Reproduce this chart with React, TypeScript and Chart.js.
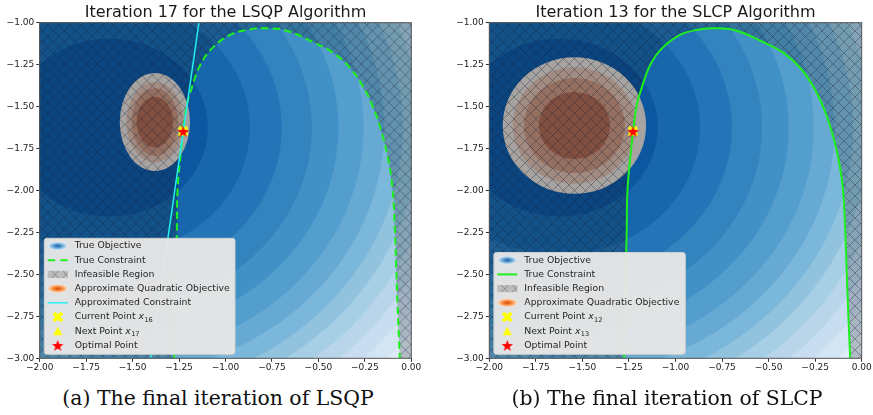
import React, { useEffect, useRef } from 'react';
import { Chart, registerables } from 'chart.js';

Chart.register(...registerables);

// ---------------- data ----------------
const xTickValues = [-2, -1.75, -1.5, -1.25, -1, -0.75, -0.5, -0.25, 0];
const yTickValues = [-3, -2.75, -2.5, -2.25, -2, -1.75, -1.5, -1.25, -1];

// true objective: contour boundaries as radii around its minimum
const objectiveCenter = [-1.625, -1.625];
const objectiveRadii = [0.53, 0.757, 0.928, 1.09, 1.233, 1.368, 1.48, 1.58, 1.67, 1.76, 1.85, 1.94, 2.03, 2.12];

// true constraint boundary (feasible region is inside)
const constraintX = [-1.276, -1.268, -1.262, -1.258, -1.238, -1.21, -1.185, -1.135, -1.07, -0.97, -0.87, -0.795, -0.68, -0.53, -0.42, -0.33, -0.255, -0.2, -0.158, -0.127, -0.103, -0.09, -0.077, -0.062];
const constraintY = [-3.0, -2.5, -2.25, -2.0, -1.75, -1.5, -1.4, -1.25, -1.15, -1.07, -1.04, -1.033, -1.045, -1.115, -1.18, -1.27, -1.39, -1.52, -1.66, -1.8, -1.97, -2.2, -2.6, -3.0];

// LSQP approximated (linearised) constraint
const approxConstraintX = [-1.403, -1.143];
const approxConstraintY = [-3.0, -1.0];

// approximate quadratic objective contours (outer -> inner semi-axes)
const lsqpQuadCenter = [-1.38, -1.592];
const lsqpQuadSemiX = [0.189, 0.153, 0.125, 0.098];
const lsqpQuadSemiY = [0.292, 0.24, 0.203, 0.151];
const slcpQuadCenter = [-1.543, -1.613];
const slcpQuadSemiX = [0.385, 0.331, 0.271, 0.191];
const slcpQuadSemiY = [0.407, 0.347, 0.283, 0.2];

// iterates
const lsqpCurrentPoint = [-1.228, -1.648];
const lsqpNextPoint = [-1.228, -1.648];
const slcpCurrentPoint = [-1.228, -1.648];
const slcpNextPoint = [-1.228, -1.648];
const optimalPoint = [-1.228, -1.648];

const titles = ['Iteration 17 for the LSQP Algorithm', 'Iteration 13 for the SLCP Algorithm'];
const captions = ['(a) The final iteration of LSQP', '(b) The final iteration of SLCP'];
const lsqpIterIndex = ['16', '17'];
const slcpIterIndex = ['12', '13'];

// ---------------- styles ----------------
const FONT = '"DejaVu Sans", "Noto Sans", sans-serif';
const LIME = '#1ef01e';
const CYAN = '#22f0f0';
const BLUES = [[247, 251, 255], [222, 235, 247], [198, 219, 239], [158, 202, 225], [107, 174, 214], [66, 146, 198], [33, 113, 181], [8, 81, 156], [8, 48, 107]];
const QUAD_COLORS = ['#a6a3a1', '#a28b81', '#957060', '#804f40'];

function blues(t: number) {
  t = Math.max(0, Math.min(1, t));
  const p = t * 8;
  const i = Math.min(7, Math.floor(p));
  const f = p - i;
  const c = BLUES[i].map((v, k) => Math.round(v + (BLUES[i + 1][k] - v) * f));
  return `rgb(${c[0]},${c[1]},${c[2]})`;
}
const bandColor = (k: number) => blues(0.85 - (0.78 / objectiveRadii.length) * k);

function makeMarker(kind: string, size: number) {
  const c = document.createElement('canvas');
  c.width = size;
  c.height = size;
  const g = c.getContext('2d')!;
  const m = size / 2;
  g.beginPath();
  if (kind === 'star') {
    const R = m - 0.5, r = R * 0.42;
    for (let i = 0; i < 10; i++) {
      const ang = -Math.PI / 2 + (i * Math.PI) / 5;
      const rad = i % 2 === 0 ? R : r;
      const px = m + rad * Math.cos(ang), py = m + rad * Math.sin(ang) + R * 0.1;
      if (i === 0) g.moveTo(px, py); else g.lineTo(px, py);
    }
    g.closePath();
    g.fillStyle = '#ff0000';
    g.fill();
  } else if (kind === 'cross') {
    g.translate(m, m);
    g.rotate(Math.PI / 4);
    g.fillStyle = '#ffff00';
    const L = m * 1.15, W = m * 0.36;
    g.fillRect(-L, -W, 2 * L, 2 * W);
    g.fillRect(-W, -L, 2 * W, 2 * L);
  } else {
    g.moveTo(m, 0.5);
    g.lineTo(size - 0.5, size - 1);
    g.lineTo(0.5, size - 1);
    g.closePath();
    g.fillStyle = '#ffff00';
    g.fill();
  }
  return c;
}

type PanelCfg = {
  title: string;
  quadCenter: number[];
  quadSemiX: number[];
  quadSemiY: number[];
  dashed: boolean;
  approx: boolean;
  current: number[];
  next: number[];
  iterIdx: string[];
  legendWidth: number;
};

function hatch(ctx: CanvasRenderingContext2D, l: number, t: number, w: number, h: number, step: number) {
  ctx.beginPath();
  for (let d = -h - step; d < w + h + step; d += step) {
    ctx.moveTo(l + d, t);
    ctx.lineTo(l + d + h, t + h);
    ctx.moveTo(l + d + h, t);
    ctx.lineTo(l + d, t + h);
  }
  ctx.stroke();
}

function contourPlugin(cfg: PanelCfg) {
  return {
    id: 'contours',
    beforeDatasetsDraw(chart: any) {
      const { ctx, chartArea: a } = chart;
      const x = chart.scales.x, y = chart.scales.y;
      ctx.save();
      ctx.beginPath();
      ctx.rect(a.left, a.top, a.right - a.left, a.bottom - a.top);
      ctx.clip();
      // objective bands
      const cx = x.getPixelForValue(objectiveCenter[0]);
      const cy = y.getPixelForValue(objectiveCenter[1]);
      ctx.fillStyle = bandColor(objectiveRadii.length);
      ctx.fillRect(a.left, a.top, a.right - a.left, a.bottom - a.top);
      for (let i = objectiveRadii.length - 1; i >= 0; i--) {
        const r = objectiveRadii[i];
        const rx = Math.abs(x.getPixelForValue(objectiveCenter[0] + r) - cx);
        const ry = Math.abs(y.getPixelForValue(objectiveCenter[1] + r) - cy);
        ctx.beginPath();
        ctx.ellipse(cx, cy, rx, ry, 0, 0, Math.PI * 2);
        ctx.fillStyle = bandColor(i);
        ctx.fill();
      }
      // infeasible region path
      const meta = chart.getDatasetMeta(0);
      if (meta.dataset && meta.dataset.updateControlPoints) meta.dataset.updateControlPoints(a, 'x');
      const pts = meta.data as any[];
      const infeasible = () => {
        ctx.beginPath();
        ctx.rect(a.left - 2, a.top - 2, a.right - a.left + 4, a.bottom - a.top + 60);
        ctx.moveTo(pts[0].x, a.bottom + 30);
        ctx.lineTo(pts[0].x, pts[0].y);
        for (let i = 1; i < pts.length; i++) {
          const p = pts[i - 1], q = pts[i];
          if (p.cp2x !== undefined && q.cp1x !== undefined) ctx.bezierCurveTo(p.cp2x, p.cp2y, q.cp1x, q.cp1y, q.x, q.y);
          else ctx.lineTo(q.x, q.y);
        }
        ctx.lineTo(pts[pts.length - 1].x, a.bottom + 30);
        ctx.closePath();
      };
      infeasible();
      ctx.fillStyle = 'rgba(0,0,0,0.2)';
      ctx.fill('evenodd');
      // approximate quadratic objective
      const qx = x.getPixelForValue(cfg.quadCenter[0]);
      const qy = y.getPixelForValue(cfg.quadCenter[1]);
      cfg.quadSemiX.forEach((sx, i) => {
        const rx = Math.abs(x.getPixelForValue(cfg.quadCenter[0] + sx) - qx);
        const ry = Math.abs(y.getPixelForValue(cfg.quadCenter[1] + cfg.quadSemiY[i]) - qy);
        ctx.beginPath();
        ctx.ellipse(qx, qy, rx, ry, 0, 0, Math.PI * 2);
        ctx.fillStyle = QUAD_COLORS[i];
        ctx.fill();
      });
      // hatch
      infeasible();
      ctx.clip('evenodd');
      ctx.strokeStyle = 'rgba(25,35,55,0.4)';
      ctx.lineWidth = 0.9;
      hatch(ctx, a.left, a.top, a.right - a.left, a.bottom - a.top, 11);
      ctx.restore();
    },
    afterDatasetsDraw(chart: any) {
      const { ctx, chartArea: a } = chart;
      ctx.save();
      ctx.strokeStyle = '#555';
      ctx.lineWidth = 1;
      ctx.strokeRect(a.left, a.top, a.right - a.left, a.bottom - a.top);
      ctx.restore();
    },
  };
}

type LegendRow = { icon: string; label: string; sub?: string };

function legendPlugin(cfg: PanelCfg, markers: Record<string, HTMLCanvasElement>) {
  const rows: LegendRow[] = [
    { icon: 'objective', label: 'True Objective' },
    { icon: cfg.dashed ? 'dashed' : 'solid', label: 'True Constraint' },
    { icon: 'infeasible', label: 'Infeasible Region' },
    { icon: 'quad', label: 'Approximate Quadratic Objective' },
  ];
  if (cfg.approx) rows.push({ icon: 'approx', label: 'Approximated Constraint' });
  rows.push({ icon: 'cross', label: 'Current Point ', sub: cfg.iterIdx[0] });
  rows.push({ icon: 'tri', label: 'Next Point ', sub: cfg.iterIdx[1] });
  rows.push({ icon: 'star', label: 'Optimal Point' });
  return {
    id: 'panelLegend',
    afterDraw(chart: any) {
      const { ctx, chartArea: a } = chart;
      const rowH = 14.2, padTop = 7.7, padBottom = 8.9;
      const h = padTop + (rows.length - 1) * rowH + padBottom;
      const w = cfg.legendWidth;
      const left = a.left + 4.6, top = a.bottom - 4 - h;
      ctx.save();
      ctx.beginPath();
      ctx.roundRect(left, top, w, h, 2.5);
      ctx.fillStyle = 'rgba(230,230,230,0.97)';
      ctx.fill();
      ctx.strokeStyle = '#cfcfcf';
      ctx.lineWidth = 1;
      ctx.stroke();
      const ix = left + 13.4;
      rows.forEach((r, i) => {
        const cy = top + padTop + i * rowH;
        ctx.save();
        if (r.icon === 'objective' || r.icon === 'quad') {
          ctx.translate(ix, cy);
          ctx.scale(1, 0.42);
          const g = ctx.createRadialGradient(0, 0, 0, 0, 0, 10);
          if (r.icon === 'objective') {
            g.addColorStop(0, '#1c5ea8'); g.addColorStop(0.45, '#5fa3d2'); g.addColorStop(1, '#e3eef8');
          } else {
            g.addColorStop(0, '#d94a0a'); g.addColorStop(0.45, '#f5873a'); g.addColorStop(1, '#fde2c8');
          }
          ctx.beginPath();
          ctx.arc(0, 0, 10, 0, Math.PI * 2);
          ctx.fillStyle = g;
          ctx.fill();
        } else if (r.icon === 'dashed' || r.icon === 'solid' || r.icon === 'approx') {
          ctx.beginPath();
          ctx.moveTo(ix - 10, cy);
          ctx.lineTo(ix + 10, cy);
          ctx.strokeStyle = r.icon === 'approx' ? CYAN : LIME;
          ctx.lineWidth = r.icon === 'approx' ? 1.5 : 2;
          if (r.icon === 'dashed') ctx.setLineDash([7.4, 5.2]);
          ctx.stroke();
        } else if (r.icon === 'infeasible') {
          ctx.beginPath();
          ctx.rect(ix - 10, cy - 3.6, 20, 7.2);
          ctx.fillStyle = '#bcbcbc';
          ctx.fill();
          ctx.clip();
          ctx.strokeStyle = 'rgba(60,60,60,0.45)';
          ctx.lineWidth = 0.8;
          hatch(ctx, ix - 10, cy - 3.6, 20, 7.2, 11);
        } else {
          const img = markers[r.icon];
          ctx.drawImage(img, ix - img.width / 2, cy - img.height / 2);
        }
        ctx.restore();
        ctx.fillStyle = '#262626';
        ctx.textBaseline = 'middle';
        ctx.font = `9.3px ${FONT}`;
        let tx = left + 30.4;
        ctx.fillText(r.label, tx, cy);
        if (r.sub) {
          tx += ctx.measureText(r.label).width;
          ctx.font = `italic 9.3px ${FONT}`;
          ctx.fillText('x', tx, cy);
          tx += ctx.measureText('x').width + 0.3;
          ctx.font = `6.6px ${FONT}`;
          ctx.fillText(r.sub, tx, cy + 2.8);
        }
      });
      ctx.restore();
    },
  };
}

const pt = (p: number[]) => [{ x: p[0], y: p[1] }];
const fmt = (v: number) => (Math.abs(v) < 1e-9 ? '0.00' : v.toFixed(2).replace('-', '\u2212'));

function Panel({ cfg, left, width, axisW }: { cfg: PanelCfg; left: number; width: number; axisW: number }) {
  const ref = useRef<HTMLCanvasElement>(null);
  useEffect(() => {
    const markers = {
      star: makeMarker('star', 13),
      cross: makeMarker('cross', 10),
      tri: makeMarker('tri', 10),
    };
    const datasets: any[] = [
      {
        label: 'True Constraint',
        data: constraintX.map((v, i) => ({ x: v, y: constraintY[i] })),
        showLine: true,
        borderColor: LIME,
        borderWidth: 2,
        borderDash: cfg.dashed ? [7.4, 4.2] : [],
        tension: 0.4,
        pointRadius: 0,
        fill: false,
        order: 5,
      },
    ];
    if (cfg.approx) {
      datasets.push({
        label: 'Approximated Constraint',
        data: approxConstraintX.map((v, i) => ({ x: v, y: approxConstraintY[i] })),
        showLine: true,
        borderColor: CYAN,
        borderWidth: 1.5,
        pointRadius: 0,
        order: 4,
      });
    }
    datasets.push(
      { label: 'Current Point', data: pt(cfg.current), pointStyle: markers.cross, pointRadius: 6, order: 3 },
      { label: 'Next Point', data: pt(cfg.next), pointStyle: markers.tri, pointRadius: 6, order: 2 },
      { label: 'Optimal Point', data: pt(optimalPoint), pointStyle: markers.star, pointRadius: 6, order: 1 },
    );
    const tickFont = { family: FONT, size: 9 };
    const chart = new Chart(ref.current!, {
      type: 'scatter',
      data: { datasets },
      options: {
        responsive: false,
        animation: false,
        events: [],
        layout: { padding: { left: 0, right: 0, top: 2.5, bottom: 0 } },
        plugins: {
          legend: { display: false },
          tooltip: { enabled: false },
          title: {
            display: true,
            text: cfg.title,
            color: '#1a1a1a',
            font: { family: FONT, size: 16, weight: 'normal' as any },
            padding: { top: 1, bottom: 0 },
          },
        },
        scales: {
          x: {
            type: 'linear',
            min: -2,
            max: 0,
            afterBuildTicks: (s: any) => { s.ticks = xTickValues.map((v) => ({ value: v })); },
            afterFit: (s: any) => { s.height = 21.7; },
            ticks: { callback: (v: any) => fmt(Number(v)), font: tickFont, color: '#222', padding: 0.5, maxRotation: 0, autoSkip: false },
            grid: { drawOnChartArea: false, drawTicks: true, tickLength: 3.5, color: '#333' },
            border: { display: false },
          },
          y: {
            type: 'linear',
            min: -3,
            max: -1,
            afterBuildTicks: (s: any) => { s.ticks = yTickValues.map((v) => ({ value: v })); },
            afterFit: (s: any) => { s.width = axisW; },
            ticks: { callback: (v: any) => fmt(Number(v)), font: tickFont, color: '#222', padding: 2, autoSkip: false },
            grid: { drawOnChartArea: false, drawTicks: true, tickLength: 3.5, color: '#333' },
            border: { display: false },
          },
          // empty mirror axis so the title centres over the plot area
          ySpacer: {
            type: 'linear',
            position: 'right',
            min: -3,
            max: -1,
            afterFit: (s: any) => { s.width = axisW; },
            ticks: { display: false },
            grid: { display: false },
            border: { display: false },
          },
        },
      } as any,
      plugins: [contourPlugin(cfg), legendPlugin(cfg, markers)],
    });
    return () => chart.destroy();
  }, []);
  return (
    <canvas
      ref={ref}
      width={width}
      height={380}
      style={{ position: 'absolute', left, top: 0, width, height: 380 }}
    />
  );
}

const lsqpCfg: PanelCfg = {
  title: titles[0],
  quadCenter: lsqpQuadCenter,
  quadSemiX: lsqpQuadSemiX,
  quadSemiY: lsqpQuadSemiY,
  dashed: true,
  approx: true,
  current: lsqpCurrentPoint,
  next: lsqpNextPoint,
  iterIdx: lsqpIterIndex,
  legendWidth: 190.7,
};
const slcpCfg: PanelCfg = {
  title: titles[1],
  quadCenter: slcpQuadCenter,
  quadSemiX: slcpQuadSemiX,
  quadSemiY: slcpQuadSemiY,
  dashed: false,
  approx: false,
  current: slcpCurrentPoint,
  next: slcpNextPoint,
  iterIdx: slcpIterIndex,
  legendWidth: 191.4,
};

export default function App() {
  useEffect(() => {
    document.body.style.margin = '0';
    document.body.style.background = '#fff';
  }, []);
  const capStyle: React.CSSProperties = {
    position: 'absolute',
    top: 386,
    width: 400,
    textAlign: 'center',
    fontFamily: '"DejaVu Serif", "Liberation Serif", serif',
    fontSize: 20.4,
    lineHeight: '24px',
    color: '#111',
    whiteSpace: 'nowrap',
  };
  return (
    <div style={{ position: 'relative', width: 873, height: 415, background: '#fff', overflow: 'hidden' }}>
      <Panel cfg={lsqpCfg} left={0} width={451} axisW={39.7} />
      <Panel cfg={slcpCfg} left={450} width={451} axisW={39.3} />
      <div style={{ ...capStyle, left: 218 - 200 }}>{captions[0]}</div>
      <div style={{ ...capStyle, left: 667 - 200 }}>{captions[1]}</div>
    </div>
  );
}
